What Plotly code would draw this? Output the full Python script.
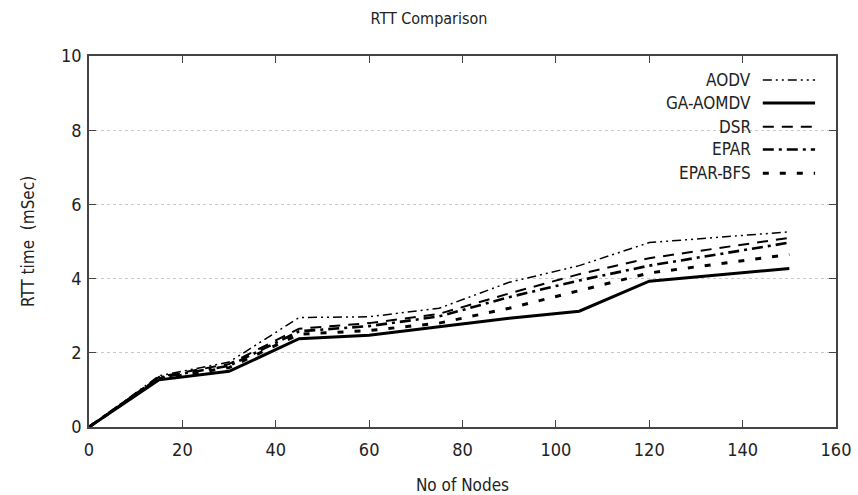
import plotly.graph_objects as go

nodes = [0, 15, 30, 45, 60, 75, 90, 105, 120, 150]
aodv = [0, 1.38, 1.75, 2.95, 2.97, 3.2, 3.9, 4.35, 4.97, 5.26]
ga_aomdv = [0, 1.27, 1.5, 2.38, 2.47, 2.7, 2.93, 3.12, 3.93, 4.27]
dsr = [0, 1.35, 1.7, 2.65, 2.8, 3.05, 3.6, 4.12, 4.55, 5.1]
epar = [0, 1.33, 1.65, 2.58, 2.72, 2.98, 3.5, 3.95, 4.35, 4.97]
epar_bfs = [0, 1.3, 1.6, 2.5, 2.6, 2.8, 3.2, 3.68, 4.15, 4.65]

series = [
    ("AODV", aodv, dict(width=1.5, dash="9px,4px,2px,4px,2px,4px")),
    ("GA-AOMDV", ga_aomdv, dict(width=3, dash="solid")),
    ("DSR", dsr, dict(width=2, dash="11px,8px")),
    ("EPAR", epar, dict(width=2.6, dash="11px,5px,3px,5px")),
    ("EPAR-BFS", epar_bfs, dict(width=3, dash="6px,11px")),
]

FONT = "DejaVu Sans Condensed, DejaVu Sans, Verdana, sans-serif"

fig = go.Figure()
for name, ys, ls in series:
    fig.add_trace(go.Scatter(x=nodes, y=ys, mode="lines", name=name,
                             line=dict(color="black", **ls), showlegend=False))

# manual legend (sample on the right of the label, gnuplot style)
leg_y = [0.935, 0.873, 0.809, 0.748, 0.684]
for (name, ys, ls), yy in zip(series, leg_y):
    fig.add_annotation(x=0.889, y=yy, xref="paper", yref="paper", text=name,
                       showarrow=False, xanchor="right", yanchor="middle",
                       font=dict(size=17, color="#222", family=FONT))
    fig.add_shape(type="line", xref="paper", yref="paper",
                  x0=0.902, x1=0.972, y0=yy, y1=yy,
                  line=dict(color="black", **ls))

fig.update_layout(
    width=858, height=495,
    margin=dict(l=89, r=22, t=56, b=68),
    paper_bgcolor="white", plot_bgcolor="white",
    font=dict(family=FONT, color="#222"),
    title=dict(text="RTT Comparison", x=0.5, xanchor="center", y=0.963, yanchor="middle",
               font=dict(size=16, family=FONT, color="#222")),
)
fig.update_xaxes(
    range=[0, 160], tickvals=[0, 20, 40, 60, 80, 100, 120, 140, 160],
    showgrid=False, zeroline=False, automargin=False,
    showline=True, linecolor="#444", linewidth=1.5, mirror="ticks",
    ticks="inside", ticklen=7, tickcolor="#444", tickwidth=1.2,
    ticklabelstandoff=6,
    tickfont=dict(size=18, family=FONT, color="#222"),
    title=dict(text="No of Nodes", font=dict(size=17, family=FONT, color="#222"), standoff=28),
)
fig.update_yaxes(
    range=[0, 10], tickvals=[0, 2, 4, 6, 8, 10],
    showgrid=True, gridcolor="#c8c8c8", griddash="dot", gridwidth=1,
    zeroline=False, automargin=False,
    showline=True, linecolor="#444", linewidth=1.5, mirror="ticks",
    ticks="inside", ticklen=7, tickcolor="#444", tickwidth=1.2,
    ticklabelstandoff=2,
    tickfont=dict(size=18, family=FONT, color="#222"),
    title=dict(text="RTT time&nbsp;&nbsp;(mSec)", font=dict(size=17, family=FONT, color="#222"), standoff=22),
)

fig.write_html("out.html")
